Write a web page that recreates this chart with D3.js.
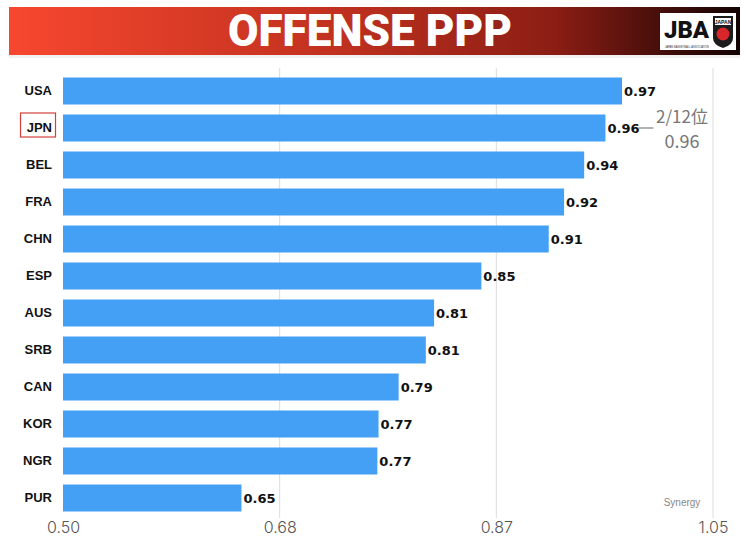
<!DOCTYPE html>
<meta charset="utf-8">
<head>
<script src="https://d3js.org/d3.v7.min.js"></script>
<style>
  body { margin: 0; background: #ffffff; }
  svg { display: block; }
</style>
</head>
<body>
<svg id="chart" width="746" height="540"></svg>
<script>
// team codes, top to bottom
var teams = ["USA", "JPN", "BEL", "FRA", "CHN", "ESP", "AUS", "SRB", "CAN", "KOR", "NGR", "PUR"];
// offense points per possession (bar lengths)
var ppp = [0.973, 0.959, 0.941, 0.924, 0.911, 0.854, 0.814, 0.807, 0.784, 0.767, 0.766, 0.651];
// shown labels
var pppLabels = ["0.97", "0.96", "0.94", "0.92", "0.91", "0.85", "0.81", "0.81", "0.79", "0.77", "0.77", "0.65"];
var tickValues = [0.5, 0.5 + 0.55 / 3, 0.5 + 1.1 / 3, 1.05];
var tickLabels = ["0.50", "0.68", "0.87", "1.05"];
var highlight = "JPN";
var rankText = "2/12位";

var svg = d3.select("#chart");

// header band with gradient
var defs = svg.append("defs");
var grad = defs.append("linearGradient").attr("id", "hdr")
  .attr("x1", "0%").attr("x2", "100%").attr("y1", "0%").attr("y2", "0%");
grad.append("stop").attr("offset", "0%").attr("stop-color", "#f7472f");
grad.append("stop").attr("offset", "45%").attr("stop-color", "#c0311f");
grad.append("stop").attr("offset", "75%").attr("stop-color", "#8a1d14");
grad.append("stop").attr("offset", "100%").attr("stop-color", "#120303");

svg.append("rect").attr("x", 9).attr("y", 7).attr("width", 731).attr("height", 48)
  .attr("fill", "url(#hdr)");
svg.append("rect").attr("x", 9).attr("y", 55).attr("width", 731).attr("height", 3)
  .attr("fill", "#f1f1f1");

svg.append("text")
  .attr("x", 370).attr("y", 46)
  .attr("text-anchor", "middle")
  .attr("fill", "#ffffff")
  .attr("font-family", "Roboto, 'Liberation Sans', sans-serif")
  .attr("font-weight", 900)
  .attr("font-size", 44)
  .attr("textLength", 284)
  .attr("lengthAdjust", "spacingAndGlyphs")
  .text("OFFENSE PPP");

// JBA logo
var logo = svg.append("g");
logo.append("rect").attr("x", 660).attr("y", 13).attr("width", 76).attr("height", 37).attr("fill", "#ffffff");
logo.append("text").attr("x", 664).attr("y", 38)
  .attr("font-family", "Roboto, 'Liberation Sans', sans-serif")
  .attr("font-weight", 900).attr("font-size", 24)
  .attr("textLength", 45).attr("lengthAdjust", "spacingAndGlyphs")
  .attr("fill", "#111").text("JBA");
logo.append("text").attr("x", 665).attr("y", 47.5)
  .attr("font-family", "'Liberation Sans', sans-serif")
  .attr("font-size", 3).attr("fill", "#333")
  .attr("textLength", 44).attr("lengthAdjust", "spacingAndGlyphs")
  .text("JAPAN BASKETBALL ASSOCIATION");
logo.append("path")
  .attr("d", "M713,16 L733,16 L733,38 Q733,45 723,48 Q713,45 713,38 Z")
  .attr("fill", "#1c1c1c");
logo.append("rect").attr("x", 715).attr("y", 18).attr("width", 16).attr("height", 7).attr("fill", "#ffffff");
logo.append("text").attr("x", 723).attr("y", 24).attr("text-anchor", "middle")
  .attr("font-family", "'Liberation Sans', sans-serif").attr("font-weight", 700)
  .attr("font-size", 5).attr("fill", "#111").text("JAPAN");
logo.append("circle").attr("cx", 723).attr("cy", 34).attr("r", 6.5).attr("fill", "#d8262a");

// scales
var x = d3.scaleLinear().domain([0.5, 1.05]).range([63, 713]);
var y = d3.scaleBand().domain(teams).range([72.5, 516.5])
  .paddingInner(0.27).paddingOuter(0.135);

// gridlines
svg.append("g").selectAll("line")
  .data(tickValues.slice(1))
  .join("line")
  .attr("x1", d => x(d)).attr("x2", d => x(d))
  .attr("y1", 68).attr("y2", 518)
  .attr("stroke", "#dcdcdc").attr("stroke-width", 1);

// x axis labels
var xAxis = d3.axisBottom(x).tickValues(tickValues)
  .tickFormat((d, i) => tickLabels[i]).tickSize(0).tickPadding(0);
var axG = svg.append("g").attr("transform", "translate(0,522)").call(xAxis);
axG.select(".domain").remove();
axG.selectAll("text")
  .attr("dy", "0.71em")
  .attr("fill", "#555")
  .attr("font-family", "Inter, 'Open Sans', sans-serif")
  .attr("font-weight", 300)
  .attr("font-size", 16);

// bars
svg.append("g").selectAll("rect")
  .data(teams)
  .join("rect")
  .attr("x", x(0.5))
  .attr("y", d => y(d))
  .attr("width", (d, i) => x(ppp[i]) - x(0.5))
  .attr("height", y.bandwidth())
  .attr("fill", "#43a0f4");

// value labels
svg.append("g").selectAll("text")
  .data(teams)
  .join("text")
  .attr("x", (d, i) => x(ppp[i]) + 2)
  .attr("y", d => y(d) + y.bandwidth() / 2 + 1)
  .attr("dominant-baseline", "middle")
  .attr("font-family", "'DejaVu Sans', sans-serif")
  .attr("font-weight", 700)
  .attr("font-size", 13)
  .attr("fill", "#111")
  .text((d, i) => pppLabels[i]);

// team labels
svg.append("g").selectAll("text")
  .data(teams)
  .join("text")
  .attr("x", 52)
  .attr("y", d => y(d) + y.bandwidth() / 2 + 1)
  .attr("text-anchor", "end")
  .attr("dominant-baseline", "middle")
  .attr("font-family", "'Liberation Sans', Arial, sans-serif")
  .attr("font-weight", 700)
  .attr("font-size", 13)
  .attr("fill", "#111")
  .text(d => d);

// highlight box around JPN
svg.append("rect")
  .attr("x", 20.5).attr("y", y(highlight) - 1.5)
  .attr("width", 35).attr("height", 24)
  .attr("fill", "none").attr("stroke", "#d2423a").attr("stroke-width", 1.2);

// rank annotation
var hi = teams.indexOf(highlight);
var jy = y(highlight) + y.bandwidth() / 2;
svg.append("line")
  .attr("x1", x(ppp[hi]) + 33).attr("x2", x(ppp[hi]) + 48)
  .attr("y1", jy).attr("y2", jy)
  .attr("stroke", "#888").attr("stroke-width", 1.3);
svg.append("text")
  .attr("x", 682).attr("y", jy - 5)
  .attr("text-anchor", "middle")
  .attr("font-family", "'Noto Sans CJK JP', 'Noto Sans', sans-serif")
  .attr("font-size", 17).attr("fill", "#777")
  .text(rankText);
svg.append("text")
  .attr("x", 682).attr("y", jy + 20)
  .attr("text-anchor", "middle")
  .attr("font-family", "'Noto Sans CJK JP', 'Noto Sans', sans-serif")
  .attr("font-size", 18).attr("fill", "#777")
  .text(pppLabels[hi]);

// source
svg.append("text")
  .attr("x", 682).attr("y", 506)
  .attr("text-anchor", "middle")
  .attr("font-family", "'Liberation Sans', sans-serif")
  .attr("font-size", 10).attr("fill", "#888")
  .text("Synergy");
</script>
</body>
